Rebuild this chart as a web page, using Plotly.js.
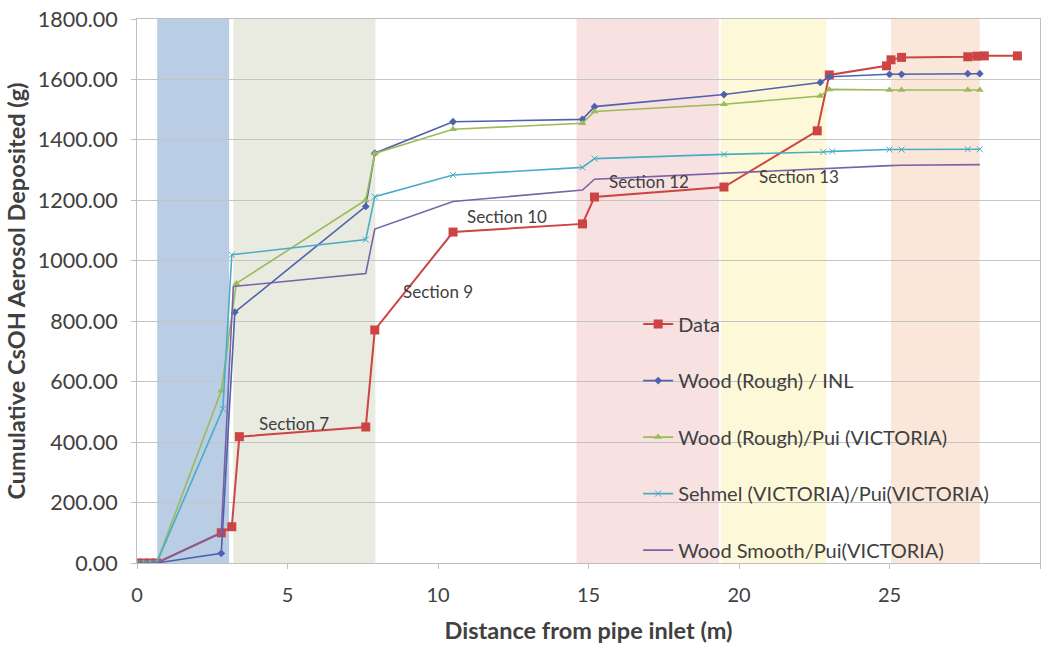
<!DOCTYPE html>
<html>
<head>
<meta charset="utf-8">
<script src="https://cdn.plot.ly/plotly-3.0.1.min.js"></script>
<style>html,body{margin:0;padding:0;background:#fff;}#chart{width:1050px;height:648px;}</style>
</head>
<body>
<div id="chart"></div>
<script>
// Data series (distance m, cumulative g)
const dataX = [0, 0.22, 0.44, 0.65, 2.8, 3.15, 3.4, 7.6, 7.9, 10.5, 14.8, 15.2, 19.5, 22.6, 23.0, 24.9, 25.05, 25.4, 27.6, 27.9, 28.15, 29.25];
const dataY = [0, 0, 0, 0, 100, 120, 418, 450, 771, 1095, 1122, 1211, 1244, 1430, 1615, 1645, 1665, 1673, 1675, 1677, 1678, 1678];

const inlX = [0, 0.22, 0.44, 0.65, 2.8, 3.25, 7.6, 7.9, 10.5, 14.8, 15.2, 19.5, 22.7, 23.0, 25.0, 25.4, 27.6, 28.0];
const inlY = [0, 0, 0, 0, 32, 830, 1180, 1356, 1460, 1468, 1510, 1550, 1590, 1609, 1617, 1617, 1619, 1619];

const puiX = [0, 0.22, 0.44, 0.65, 2.8, 3.3, 7.6, 7.9, 10.5, 14.8, 15.2, 19.5, 22.7, 23.0, 25.0, 25.4, 27.6, 28.0];
const puiY = [0, 0, 0, 0, 570, 925, 1201, 1355, 1435, 1455, 1494, 1518, 1545, 1567, 1565, 1565, 1565, 1565];

const sehX = [0, 0.22, 0.44, 0.65, 2.85, 3.15, 7.6, 7.9, 10.5, 14.8, 15.2, 19.5, 22.8, 23.1, 25.0, 25.4, 27.6, 28.0];
const sehY = [0, 0, 0, 0, 510, 1020, 1070, 1212, 1284, 1309, 1338, 1352, 1360, 1362, 1368, 1368, 1369, 1369];

const smoothX = [0, 0.22, 0.44, 0.65, 2.8, 3.2, 7.6, 7.9, 10.5, 14.8, 15.2, 19.5, 22.8, 23.1, 25.0, 25.4, 27.6, 28.0];
const smoothY = [0, 0, 0, 0, 100, 915, 958, 1105, 1196, 1234, 1270, 1290, 1305, 1308, 1315, 1316, 1318, 1318];

const seriesNames = ["Data", "Wood (Rough) / INL", "Wood (Rough)/Pui (VICTORIA)", "Sehmel (VICTORIA)/Pui(VICTORIA)", "Wood Smooth/Pui(VICTORIA)"];

// Shaded sections (m)
const bandStart = [0.67, 3.2, 14.6, 19.4, 25.05];
const bandEnd   = [3.06, 7.92, 19.33, 22.9, 28.0];
const bandColor = ["#b9cde5", "#e9ebe0", "#f7e1e1", "#fdf8d8", "#fbe7da"];

// Section labels
const sectionText = ["Section 7", "Section 9", "Section 10", "Section 12", "Section 13"];
const sectionX = [5.2, 10.0, 12.3, 17.0, 22.0];
const sectionY = [462, 900, 1145, 1262, 1280];

const font = "Lato, 'Open Sans', sans-serif";

const traces = [
  {x: dataX, y: dataY, name: seriesNames[0], mode: "lines+markers",
   line: {color: "#cc4444", width: 2}, marker: {symbol: "square", size: 9, color: "#cc4444"}},
  {x: inlX, y: inlY, name: seriesNames[1], mode: "lines+markers",
   line: {color: "#4e62ad", width: 1.6}, marker: {symbol: "diamond", size: 6, color: "#4e62ad"}},
  {x: puiX, y: puiY, name: seriesNames[2], mode: "lines+markers",
   line: {color: "#9bbb59", width: 1.6}, marker: {symbol: "triangle-up", size: 7, color: "#9bbb59"}},
  {x: sehX, y: sehY, name: seriesNames[3], mode: "lines+markers",
   line: {color: "#4bacc6", width: 1.6}, marker: {symbol: "x-thin-open", size: 6, color: "#4bacc6", line: {color: "#4bacc6", width: 1}}},
  {x: smoothX, y: smoothY, name: seriesNames[4], mode: "lines",
   line: {color: "#7a62a6", width: 1.6}}
].map((t, i) => Object.assign(t, {legendgroup: "g" + i}));

const shapes = bandStart.map((s, i) => ({
  type: "rect", xref: "x", yref: "paper", x0: s, x1: bandEnd[i], y0: 0, y1: 1,
  fillcolor: bandColor[i], line: {width: 0}, layer: "below"
}));

const annotations = sectionText.map((t, i) => ({
  x: sectionX[i], y: sectionY[i], xref: "x", yref: "y", text: t, showarrow: false,
  font: {family: font, size: 17, color: "#404040"}
}));

const layout = {
  width: 1050, height: 648,
  margin: {l: 137, r: 10, t: 19, b: 85},
  paper_bgcolor: "#ffffff", plot_bgcolor: "rgba(0,0,0,0)",
  font: {family: font, size: 15, color: "#404040"},
  showlegend: true,
  legend: {x: 0.555, y: 0.475, xanchor: "left", yanchor: "top", bgcolor: "rgba(0,0,0,0)",
           font: {family: font, size: 20, color: "#404040"}, tracegroupgap: 27.5, traceorder: "grouped"},
  xaxis: {range: [0, 30], tickvals: [0, 5, 10, 15, 20, 25, 30], showgrid: false, zeroline: false,
          showline: true, linecolor: "#bfbfbf", linewidth: 1, mirror: true,
          ticks: "outside", ticklen: 5, tickcolor: "#bfbfbf", ticklabelstandoff: 9,
          tickfont: {family: font, size: 20, color: "#404040"},
          title: {text: "<b>Distance from pipe inlet (m)</b>", font: {family: font, size: 23.5, color: "#404040"}, standoff: 17}},
  yaxis: {range: [0, 1800], dtick: 200, tickformat: ".2f", showgrid: true, gridcolor: "#c4c4c4", gridwidth: 1,
          zeroline: false, showline: true, linecolor: "#bfbfbf", linewidth: 1, mirror: true,
          ticks: "outside", ticklen: 5, tickcolor: "#bfbfbf", ticklabelstandoff: 9,
          tickfont: {family: font, size: 21.5, color: "#404040"},
          title: {text: "<b>Cumulative CsOH Aerosol Deposited (g)</b>", font: {family: font, size: 23.5, color: "#404040"}, standoff: 5}},
  shapes: shapes,
  annotations: annotations
};

Plotly.newPlot("chart", traces, layout, {displayModeBar: false, staticPlot: true});
</script>
</body>
</html>
